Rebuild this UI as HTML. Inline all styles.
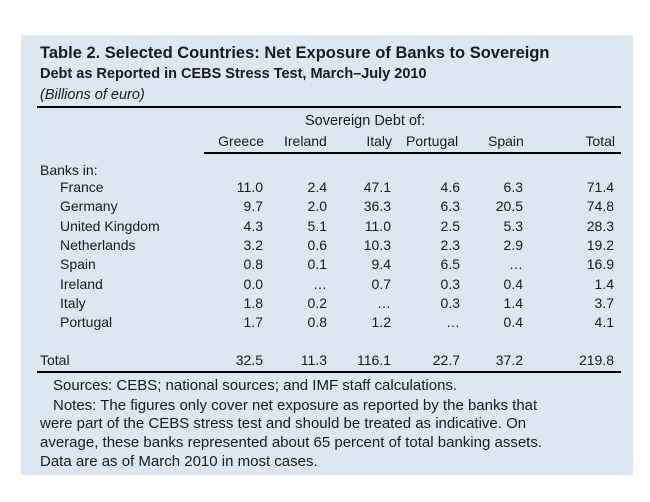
<!DOCTYPE html>
<html><head><meta charset="utf-8"><style>
body{margin:0;background:#fff;width:650px;height:502px;position:relative;font-family:"Liberation Sans",Arial,sans-serif;color:#1a1a1a;overflow:hidden}
#box{position:absolute;left:21px;top:35px;width:612px;height:440px;background:#dde7f2}
.t{position:absolute;white-space:nowrap;font-size:14px;line-height:18px}
.r{text-align:right}
.n{font-size:15px}
.rule{position:absolute;background:#000}
</style></head><body>
<div id="box"></div>
<div class="t" style="left:40px;top:43px;font-size:16.5px;font-weight:bold;line-height:20px">Table 2. Selected Countries: Net Exposure of Banks to Sovereign</div>
<div class="t" style="left:40px;top:65px;font-size:14.5px;font-weight:bold">Debt as Reported in CEBS Stress Test, March–July 2010</div>
<div class="t" style="left:40px;top:86px;font-style:italic;font-size:14.5px">(Billions of euro)</div>
<div class="rule" style="left:37px;top:106px;height:2px;width:584px"></div>
<div class="t" style="left:305px;top:112px;font-size:14.5px">Sovereign Debt of:</div>
<div class="rule" style="left:204px;top:152px;height:2px;width:417px"></div>
<div class="rule" style="left:37px;top:371px;height:2px;width:584px"></div>
<div class="t" style="left:40px;top:161px">Banks in:</div>
<div class="t r" style="right:386px;top:132px">Greece</div>
<div class="t" style="left:284px;top:132px">Ireland</div>
<div class="t r" style="right:258px;top:132px">Italy</div>
<div class="t" style="left:406px;top:132px">Portugal</div>
<div class="t" style="left:488px;top:132px">Spain</div>
<div class="t r" style="right:35px;top:132px">Total</div>
<div id="rows"></div>
<div class="t" style="left:40px;top:351px">Total</div>
<div class="t r" style="right:387px;top:351px">32.5</div>
<div class="t r" style="right:323px;top:351px">11.3</div>
<div class="t r" style="right:259px;top:351px">116.1</div>
<div class="t r" style="right:190px;top:351px">22.7</div>
<div class="t r" style="right:127px;top:351px">37.2</div>
<div class="t r" style="right:36px;top:351px">219.8</div>
<div class="t n" style="left:53px;top:377px">Sources: CEBS; national sources; and IMF staff calculations.</div>
<div class="t n" style="left:53px;top:397px">Notes: The figures only cover net exposure as reported by the banks that</div>
<div class="t n" style="left:40px;top:415px">were part of the CEBS stress test and should be treated as indicative. On</div>
<div class="t n" style="left:40px;top:434px">average, these banks represented about 65 percent of total banking assets.</div>
<div class="t n" style="left:40px;top:453px">Data are as of March 2010 in most cases.</div>
<script>
var d=[["France","11.0","2.4","47.1","4.6","6.3","71.4"],["Germany","9.7","2.0","36.3","6.3","20.5","74.8"],["United Kingdom","4.3","5.1","11.0","2.5","5.3","28.3"],["Netherlands","3.2","0.6","10.3","2.3","2.9","19.2"],["Spain","0.8","0.1","9.4","6.5","…","16.9"],["Ireland","0.0","…","0.7","0.3","0.4","1.4"],["Italy","1.8","0.2","…","0.3","1.4","3.7"],["Portugal","1.7","0.8","1.2","…","0.4","4.1"]];
var R=[387,323,259,190,127,36],h="";
d.forEach(function(r,i){var y=178+i*19.3;h+='<div class="t" style="left:60px;top:'+y+'px">'+r[0]+'</div>';for(var j=1;j<7;j++)h+='<div class="t r" style="right:'+R[j-1]+'px;top:'+y+'px">'+r[j]+'</div>';});
document.getElementById("rows").innerHTML=h;
</script>
</body></html>
